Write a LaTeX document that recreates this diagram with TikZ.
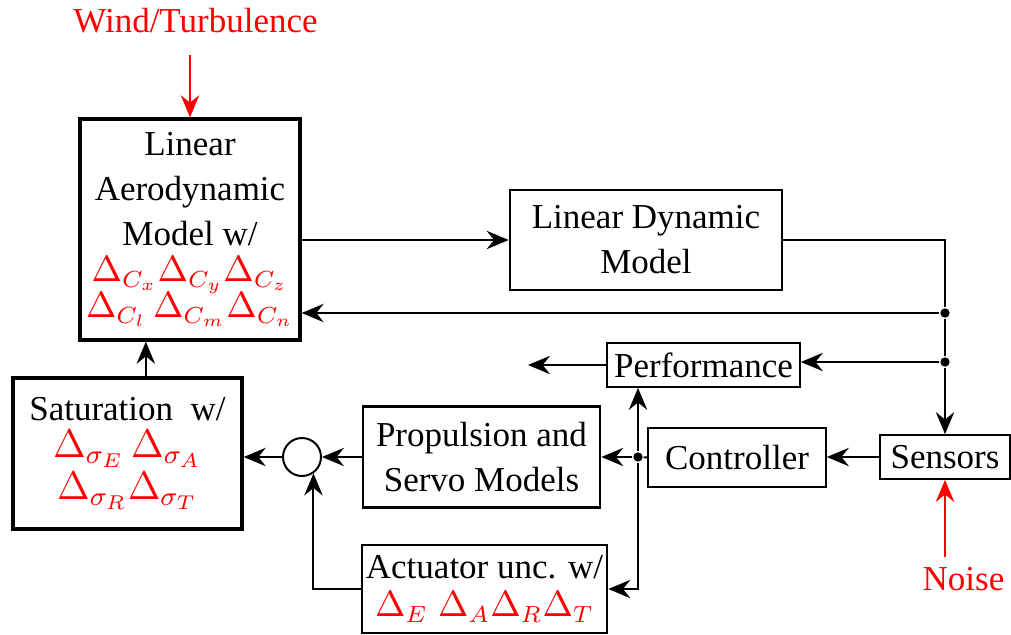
\documentclass[tikz,border=0pt]{standalone}
\usepackage[no-math]{fontspec}
\setmainfont{Liberation Serif}
\usepackage{amsmath}
\usepackage{xcolor}
\usetikzlibrary{arrows.meta}

\begin{document}
\begin{tikzpicture}[x=0.3pt, y=-0.3pt, line width=0.6pt,
    >={Stealth[length=6.6pt,width=5.5pt,inset=2.2pt]},
    every node/.style = {font=\fontsize{10.5}{13.5}\selectfont},
    main/.style = {draw, align=center, inner sep=0pt},
    heavy/.style = {main, line width=1pt},
    light/.style = {main, line width=0.5pt},
    dot/.style = {circle, fill, inner sep=0pt, minimum size=2.8pt}]
    \useasboundingbox (0,0) rectangle (1011,635);
    \node[heavy, minimum width=66pt, minimum height=66.3pt] (1) at (190,229.5)
        {Linear\\Aerodynamic\\Model w/\\[-2.7pt]
         \color{red}$\Delta_{C_x}\Delta_{C_y}\Delta_{C_z}$\\[-2.7pt]
         \color{red}$\Delta_{C_l}\,\Delta_{C_m}\Delta_{C_n}$};
    \node[main, line width=0.8pt, minimum width=81.6pt, minimum height=30pt] (2) at (646,240)
        {Linear Dynamic\\Model};
    \node[light, minimum width=57.9pt, minimum height=13.2pt] (3) at (703.5,365) {Performance};
    \node[light, minimum width=39pt, minimum height=13.2pt] (4) at (945,457) {Sensors};
    \node[light, minimum width=53.4pt, minimum height=17.7pt] (5) at (737,457.5) {Controller};
    \node[main, line width=0.8pt, minimum width=71.1pt, minimum height=30.3pt] (6) at (481.5,457)
        {Propulsion and\\Servo Models};
    \node[main, line width=0.8pt, minimum width=73.5pt, minimum height=26.4pt] (7) at (484.5,589)
        {Actuator unc. w/\\[-2pt]
         \color{red}$\Delta_E\;\Delta_A\Delta_R\Delta_T$};
    \node[heavy, minimum width=68.7pt, minimum height=45.3pt] (8) at (127.5,453.5)
        {Saturation~ w/\\[-2.5pt]
         \color{red}\large$\Delta_{\sigma_E}\,\Delta_{\sigma_A}$\\[-1pt]
         \color{red}\large$\Delta_{\sigma_R}\Delta_{\sigma_T}$};
    \node[draw, circle, inner sep=0pt, minimum size=11.4pt] (9) at (302,457) {};
    \node[red, anchor=base] (10) at (195.5,33) {Wind/Turbulence};
    \node[red, anchor=base] (11) at (963.5,590) {Noise};
    \node[dot] (d1) at (945,313) {};
    \node[dot] (d2) at (945,362) {};
    \node[dot] (d3) at (638,457) {};
    \coordinate (w) at (190,55);
    \coordinate (n) at (945,557);
    \coordinate (o) at (528,365);
    \draw[->, red] (w) -- (1.north);
    \draw[->, red] (n) -- (4.south);
    \draw[->] (1.east |- 2.west) -- (2.west);
    \draw (2.east) -| (d1);
    \draw (d1) -- (d2);
    \draw[->] (d2) -- (4);
    \draw[->] (d1) -- (d1 -| 1.east);
    \draw[->] (d2) -- (d2 -| 3.east);
    \draw[->] (3.west) -- (o);
    \draw[->] (4.west) -- (4.west -| 5.east);
    \draw (5.west) -- (d3);
    \draw[->] (d3) -- (6.east);
    \draw[->] (d3) -- (d3 |- 3.south);
    \draw[->] (d3) |- (7.east);
    \draw[->] (6.west) -- (9.east);
    \draw[->] (9.west) -- (9.west -| 8.east);
    \draw[->] (7.west) -| (9.-55);
    \draw[->] ([xshift=5.5pt]8.north) -- ([xshift=5.5pt]8.north |- 1.south);
\end{tikzpicture}
\end{document}
